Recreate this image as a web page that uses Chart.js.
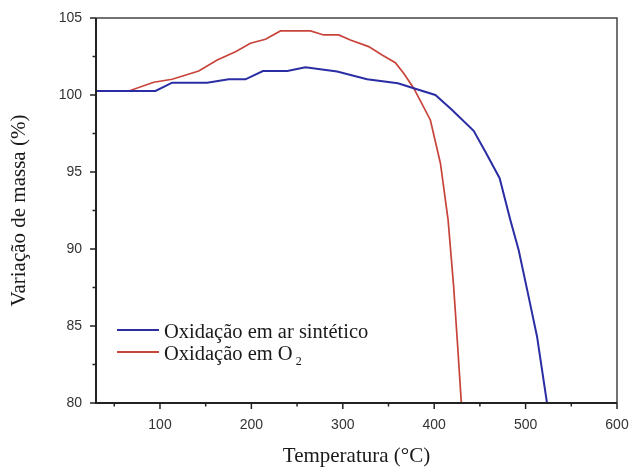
<!DOCTYPE html>
<html>
<head>
<meta charset="utf-8">
<script src="https://cdn.jsdelivr.net/npm/chart.js@4/dist/chart.umd.min.js"></script>
<style>
  html, body { margin: 0; padding: 0; background: #ffffff; }
  #wrap { width: 630px; height: 467px; position: relative; }
</style>
</head>
<body>
<div id="wrap"><canvas id="c" width="630" height="467"></canvas></div>
<script>
// ---- Data ----
const seriesLabels = ["Oxidação em ar sintético", "Oxidação em O"];
const tempAr = [30.2, 65.9, 95.1, 113.3, 151.6, 175.2, 193.5, 212.6, 239.4, 259.1, 293.8, 326.6, 360.3, 377.6, 401.3, 419.6, 443.2, 456.0, 471.6, 483.3, 492.4, 503.3, 512.5, 523.4];
const massAr = [100.26, 100.26, 100.26, 100.80, 100.80, 101.02, 101.02, 101.56, 101.56, 101.80, 101.52, 101.02, 100.76, 100.44, 100.00, 99.03, 97.67, 96.32, 94.60, 91.89, 89.94, 86.91, 84.32, 80.0];
const tempO2 = [30.2, 65.9, 93.2, 113.3, 142.4, 162.6, 182.6, 199.0, 215.4, 231.8, 264.6, 279.1, 295.5, 308.3, 328.3, 343.0, 357.5, 366.6, 377.6, 395.8, 406.8, 415.2, 421.3, 425.7, 429.7];
const massO2 = [100.26, 100.26, 100.83, 101.02, 101.56, 102.27, 102.81, 103.36, 103.62, 104.16, 104.16, 103.90, 103.90, 103.57, 103.14, 102.60, 102.10, 101.41, 100.44, 98.38, 95.57, 91.89, 87.56, 83.67, 80.0];
const xMajorTicks = [100, 200, 300, 400, 500, 600];
const xMinorTicks = [50, 150, 250, 350, 450, 550];
const yMajorTicks = [80, 85, 90, 95, 100, 105];
const yMinorTicks = [82.5, 87.5, 92.5, 97.5, 102.5];

const blue = "#2a2da3";
const red = "#c8443b";

function pts(xs, ys) { return xs.map((x, i) => ({ x: x, y: ys[i] })); }

const framePlugin = {
  id: "frame",
  afterDraw(chart) {
    const ctx = chart.ctx;
    const a = chart.chartArea;
    const xs = chart.scales.x, ys = chart.scales.y;
    ctx.save();
    // top & right border
    ctx.strokeStyle = "#444";
    ctx.lineWidth = 1.5;
    ctx.beginPath();
    ctx.moveTo(a.left, a.top); ctx.lineTo(a.right, a.top); ctx.lineTo(a.right, a.bottom);
    ctx.stroke();
    // left & bottom axes
    ctx.strokeStyle = "#222";
    ctx.lineWidth = 2;
    ctx.beginPath();
    ctx.moveTo(a.left, a.top); ctx.lineTo(a.left, a.bottom); ctx.lineTo(a.right, a.bottom);
    ctx.stroke();
    // ticks
    ctx.lineWidth = 1.5;
    ctx.beginPath();
    xMajorTicks.forEach(v => { const p = xs.getPixelForValue(v); ctx.moveTo(p, a.bottom); ctx.lineTo(p, a.bottom + 6); });
    xMinorTicks.forEach(v => { const p = xs.getPixelForValue(v); ctx.moveTo(p, a.bottom); ctx.lineTo(p, a.bottom + 3.5); });
    yMajorTicks.forEach(v => { const p = ys.getPixelForValue(v); ctx.moveTo(a.left, p); ctx.lineTo(a.left - 6, p); });
    yMinorTicks.forEach(v => { const p = ys.getPixelForValue(v); ctx.moveTo(a.left, p); ctx.lineTo(a.left - 3.5, p); });
    ctx.stroke();

    // legend
    const ds = chart.data.datasets;
    const rows = [330, 352];
    ctx.textBaseline = "alphabetic";
    ctx.textAlign = "left";
    ds.forEach((d, i) => {
      const y = rows[i];
      ctx.strokeStyle = d.borderColor;
      ctx.lineWidth = 2;
      ctx.beginPath(); ctx.moveTo(117, y); ctx.lineTo(159, y); ctx.stroke();
      ctx.fillStyle = "#1a1a1a";
      ctx.font = '20.5px "Liberation Serif", "Times New Roman", serif';
      ctx.fillText(d.label, 164, y + 8);
      if (i === 1) {
        const w = ctx.measureText(d.label).width;
        ctx.font = '12px "Liberation Serif", "Times New Roman", serif';
        ctx.fillText("2", 164 + w + 3, y + 13);
      }
    });
    ctx.restore();
  }
};

new Chart(document.getElementById("c"), {
  type: "line",
  data: {
    datasets: [
      { label: seriesLabels[0], data: pts(tempAr, massAr), borderColor: blue, borderWidth: 2, pointRadius: 0, tension: 0, fill: false },
      { label: seriesLabels[1], data: pts(tempO2, massO2), borderColor: red, borderWidth: 1.7, pointRadius: 0, tension: 0, fill: false }
    ]
  },
  options: {
    responsive: false,
    animation: false,
    layout: { padding: { left: 0, right: 13, top: 18, bottom: 0 } },
    plugins: { legend: { display: false }, tooltip: { enabled: false } },
    scales: {
      x: {
        type: "linear",
        min: 30, max: 600,
        afterBuildTicks: s => { s.ticks = xMajorTicks.map(v => ({ value: v })); },
        afterFit: s => { s.height = 64; s.paddingLeft = 0; s.paddingRight = 0; },
        grid: { display: false },
        border: { display: false },
        ticks: { color: "#333", font: { family: '"Liberation Sans", Arial, sans-serif', size: 14 }, padding: 6, maxRotation: 0, autoSkip: false },
        title: { display: true, text: "Temperatura (°C)", color: "#1a1a1a", font: { family: '"Liberation Serif", "Times New Roman", serif', size: 21 }, padding: { top: 0, bottom: -2 } }
      },
      y: {
        type: "linear",
        min: 80, max: 105,
        afterBuildTicks: s => { s.ticks = yMajorTicks.map(v => ({ value: v })); },
        afterFit: s => { s.width = 96; s.paddingTop = 0; s.paddingBottom = 0; },
        grid: { display: false },
        border: { display: false },
        ticks: { color: "#333", font: { family: '"Liberation Sans", Arial, sans-serif', size: 14 }, padding: 6, autoSkip: false },
        title: { display: true, text: "Variação de massa (%)", color: "#1a1a1a", font: { family: '"Liberation Serif", "Times New Roman", serif', size: 21 }, padding: { top: 7, bottom: 0 } }
      }
    }
  },
  plugins: [framePlugin]
});
</script>
</body>
</html>
